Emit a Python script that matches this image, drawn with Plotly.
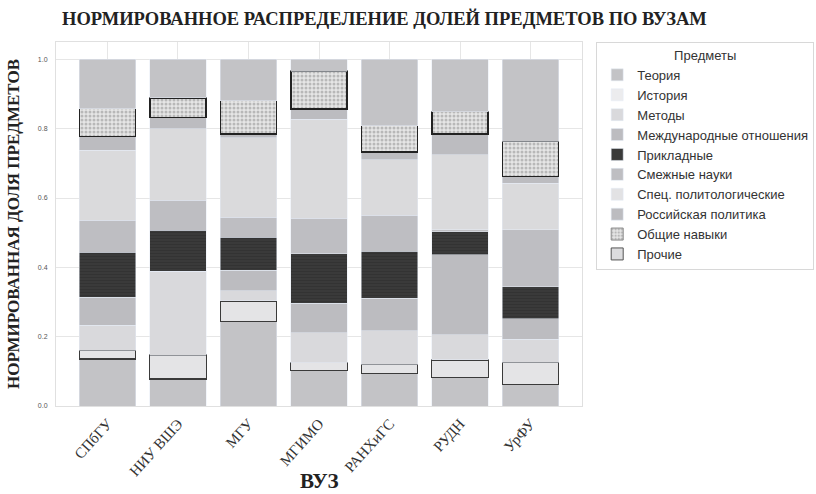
import plotly.graph_objects as go

universities = ["СПбГУ", "НИУ ВШЭ", "МГУ", "МГИМО", "РАНХиГС", "РУДН", "УрФУ"]
subjects = ["Теория", "История", "Методы", "Международные отношения", "Прикладные",
            "Смежные науки", "Спец. политологические", "Российская политика",
            "Общие навыки", "Прочие"]

teoriya   = [0.136, 0.078, 0.243, 0.103, 0.093, 0.082, 0.063]
istoriya  = [0.025, 0.069, 0.060, 0.022, 0.027, 0.051, 0.063]
metody    = [0.072, 0.241, 0.030, 0.087, 0.097, 0.072, 0.067]
mo        = [0.081, 0.000, 0.058, 0.085, 0.094, 0.231, 0.058]
prikl     = [0.129, 0.119, 0.096, 0.142, 0.135, 0.066, 0.093]
smezh     = [0.093, 0.087, 0.057, 0.103, 0.104, 0.007, 0.165]
spec      = [0.202, 0.206, 0.230, 0.285, 0.161, 0.216, 0.133]
ros       = [0.040, 0.032, 0.011, 0.030, 0.022, 0.060, 0.020]
obshie    = [0.080, 0.057, 0.096, 0.109, 0.076, 0.064, 0.101]
prochie   = [0.142, 0.111, 0.119, 0.034, 0.191, 0.151, 0.237]

series = [teoriya, istoriya, metody, mo, prikl, smezh, spec, ros, obshie, prochie]

# bar styles (grayscale print look)
bar_styles = [
    dict(color="#c3c3c6"),
    dict(color="#e4e4e6", line=dict(color="#3a3a3a", width=1.3)),
    dict(color="#d9d9dc"),
    dict(color="#bcbcc0"),
    dict(color="#3a3a3a", pattern=dict(shape="-", fgcolor="#2a2a2a", size=3, solidity=0.3)),
    dict(color="#bebec2"),
    dict(color="#dadadc"),
    dict(color="#bcbcc0"),
    dict(color="#e2e2e2", line=dict(color="#222222", width=1.5),
         pattern=dict(shape=".", fgcolor="#8a8a8a", bgcolor="#e6e6e6", size=4, solidity=0.45)),
    dict(color="#c3c3c6"),
]
legend_styles = [
    dict(color="#c3c3c6"),
    dict(color="#ececee"),
    dict(color="#d9d9dc"),
    dict(color="#bcbcc0"),
    dict(color="#3a3a3a"),
    dict(color="#bebec2"),
    dict(color="#e2e2e4"),
    dict(color="#bcbcc0"),
    dict(color="#e2e2e2", line=dict(color="#888888", width=1),
         pattern=dict(shape=".", fgcolor="#8a8a8a", bgcolor="#e6e6e6", size=4, solidity=0.45)),
    dict(color="#dcdcde", line=dict(color="#555555", width=1)),
]

fig = go.Figure()
for name, vals, st in zip(subjects, series, bar_styles):
    fig.add_trace(go.Bar(x=universities, y=vals, name=name, marker=st,
                         showlegend=False, legendgroup=name, hoverinfo="skip"))
for name, st in zip(subjects, legend_styles):
    fig.add_trace(go.Bar(x=[None], y=[None], name=name, marker=st,
                         showlegend=True, legendgroup=name))

serif = "Liberation Serif"
fig.update_layout(
    width=816, height=494,
    margin=dict(l=56, r=234, t=42, b=88, autoexpand=False),
    paper_bgcolor="white", plot_bgcolor="white",
    barmode="stack", bargap=0.2,
    title=dict(text="<b>НОРМИРОВАННОЕ РАСПРЕДЕЛЕНИЕ ДОЛЕЙ ПРЕДМЕТОВ ПО ВУЗАМ</b>",
               x=62/816, xanchor="left", y=1-19/494, yanchor="middle",
               font=dict(family=serif, size=18.5, color="#222222")),
    legend=dict(x=1.027, y=1.0, xanchor="left", yanchor="top",
                bgcolor="white", bordercolor="#d8d8d8", borderwidth=1,
                font=dict(family="Liberation Sans", size=13, color="#333333"),
                title=dict(text="Предметы", side="top center",
                           font=dict(family="Liberation Sans", size=13, color="#333333")),
                tracegroupgap=0, itemwidth=30),
    xaxis=dict(range=[-0.73, 6.73], showgrid=True, gridcolor="#e6e6e6",
               tickangle=-48, ticks="", showline=True, linecolor="#e0e0e0", mirror=True,
               automargin=False, ticklabelstandoff=2,
               tickfont=dict(family=serif, size=15, color="#333333")),
    yaxis=dict(range=[0, 1.05], tickvals=[0, 0.2, 0.4, 0.6, 0.8, 1.0], tickformat=".1f",
               showgrid=True, gridcolor="#e6e6e6", zeroline=False, ticks="",
               showline=True, linecolor="#e0e0e0", mirror=True, automargin=False,
               ticklabelstandoff=6,
               tickfont=dict(family="Liberation Sans", size=7, color="#555555"),
               title=dict(text="<b>НОРМИРОВАННАЯ ДОЛЯ ПРЕДМЕТОВ</b>",
                          font=dict(family=serif, size=17, color="#222222"), standoff=13)),
    annotations=[dict(text="<b>ВУЗ</b>", xref="paper", yref="paper",
                      x=0.5, y=-(481-406)/364, xanchor="center", yanchor="middle",
                      showarrow=False, font=dict(family=serif, size=21, color="#222222"))],
)

fig.write_html("out.html", config={"displayModeBar": False})

# remove default page margin so the figure sits at the window's top-left corner
with open("out.html", "r", encoding="utf-8") as f:
    html = f.read()
html = html.replace("<head>", "<head><style>body{margin:0;padding:0;overflow:hidden;}</style>", 1)
with open("out.html", "w", encoding="utf-8") as f:
    f.write(html)
